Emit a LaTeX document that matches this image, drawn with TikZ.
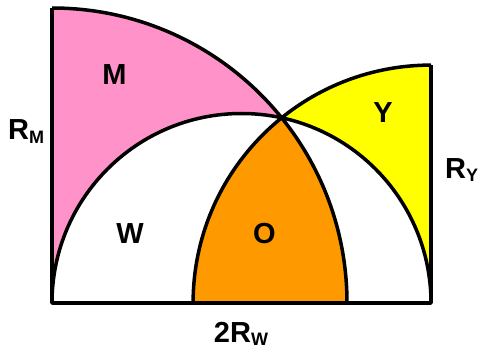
\documentclass[tikz,border=0pt]{standalone}
\usepackage{fontspec}
\setmainfont{Liberation Sans}
\definecolor{mpink}{HTML}{FF92C8}
\definecolor{yyel}{HTML}{FFFF00}
\definecolor{oorg}{HTML}{FF9900}
\newcommand{\bigf}{\fontsize{29}{31}\selectfont\bfseries}
\newcommand{\subf}[1]{\raisebox{-3.5pt}{\fontsize{18}{18}\selectfont\bfseries #1}}
\begin{document}
\begin{tikzpicture}[x=1pt,y=1pt,
  outl/.style={line width=3.5pt, line join=round},
  lbl/.style={font=\bigf, inner sep=0pt, anchor=base}]
\useasboundingbox (0,0) rectangle (481,351);
% geometry
\coordinate (A) at (52,48);
\coordinate (B) at (431,48);
\coordinate (C) at (241.5,48);
\def\RM{295}
\def\RY{237.9}
\def\RW{189.5}
\coordinate (P) at (281.6,233.2);
\coordinate (Mtop) at (52,343);
\coordinate (Ytop) at (431,285.9);
\coordinate (Oleft) at (193.1,48);
\coordinate (Oright) at (347,48);
% fills
\fill[mpink] (A) -- (Mtop) arc[start angle=90, end angle=38.89, radius=\RM]
  arc[start angle=77.78, end angle=180, radius=\RW] -- cycle;
\fill[yyel] (B) -- (Ytop) arc[start angle=90, end angle=128.89, radius=\RY]
  arc[start angle=77.78, end angle=0, radius=\RW] -- cycle;
\fill[oorg] (Oleft) arc[start angle=180, end angle=128.89, radius=\RY]
  arc[start angle=38.89, end angle=0, radius=\RM] -- cycle;
% outlines
\draw[outl] (Mtop) -- (A) -- (B) -- (Ytop);
\draw[outl] (Mtop) arc[start angle=90, end angle=0, radius=\RM];
\draw[outl] (Ytop) arc[start angle=90, end angle=180, radius=\RY];
\draw[outl] (B) arc[start angle=0, end angle=180, radius=\RW];
% labels
\node[lbl] (lM) at (114.5,266) {M};
\node[lbl] (lY) at (383,228) {Y};
\node[lbl] (lW) at (130,108) {W};
\node[lbl] (lO) at (264.5,108) {O};
\node[lbl, anchor=base west] (lRM) at (8,211) {R\subf{M}};
\node[lbl, anchor=base west] (lRY) at (445,173) {R\subf{Y}};
\node[lbl] (lRW) at (241,9) {2R\subf{W}};
\end{tikzpicture}
\end{document}
